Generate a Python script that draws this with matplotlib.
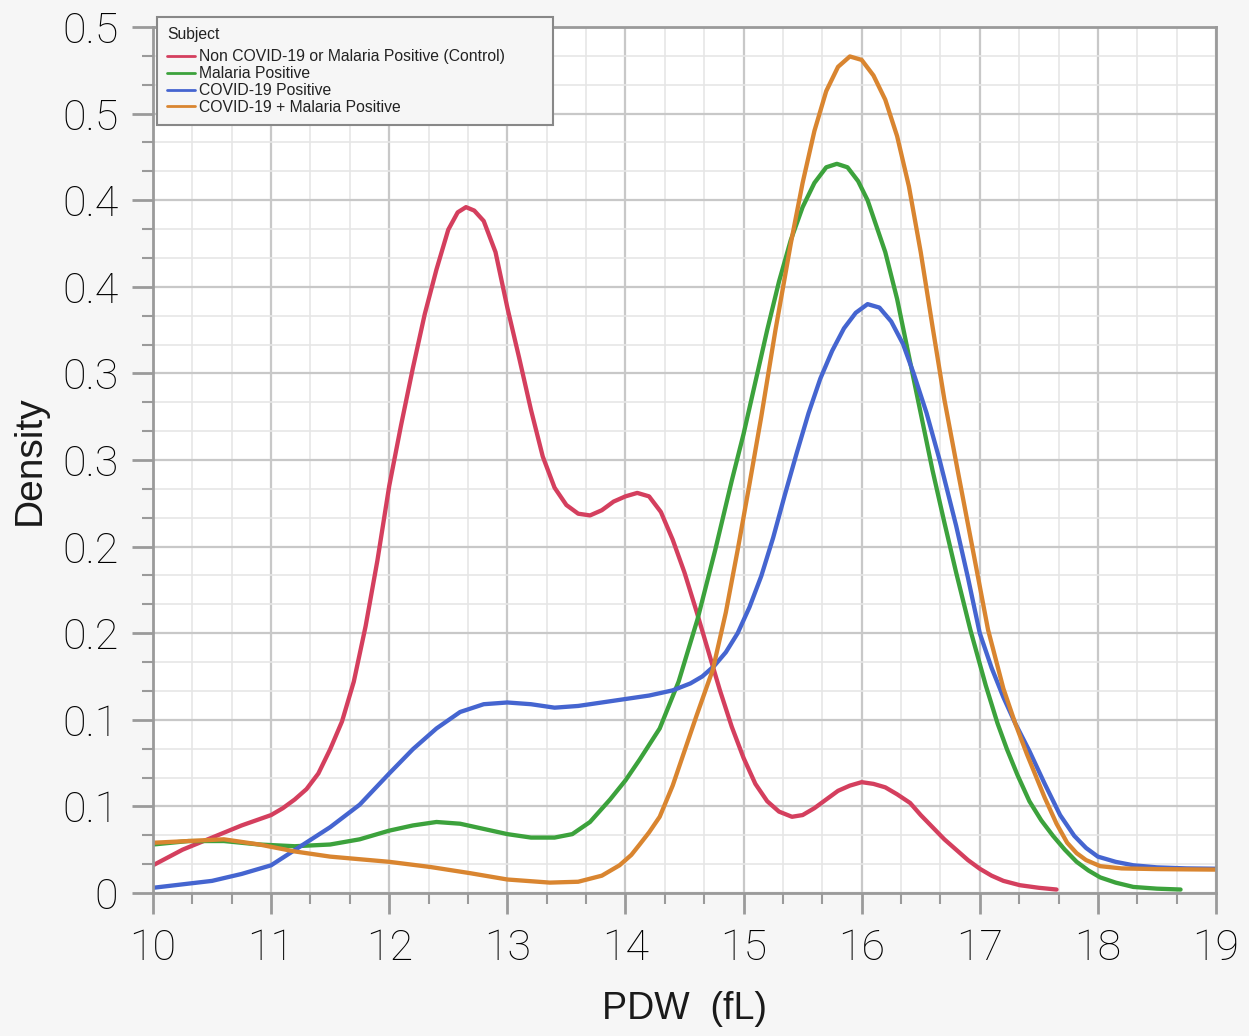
import matplotlib.pyplot as plt
from matplotlib.ticker import MultipleLocator

# density curves (PDW in fL vs density)
control_x = [10.0, 10.25, 10.5, 10.75, 11.0, 11.1, 11.2, 11.3, 11.4, 11.5, 11.6, 11.7,
             11.8, 11.9, 12.0, 12.1, 12.2, 12.3, 12.4, 12.5, 12.58, 12.65, 12.72, 12.8,
             12.9, 13.0, 13.1, 13.2, 13.3, 13.4, 13.5, 13.6, 13.7, 13.8, 13.9, 14.0,
             14.1, 14.2, 14.3, 14.4, 14.5, 14.6, 14.7, 14.8, 14.9, 15.0, 15.1, 15.2,
             15.3, 15.41, 15.5, 15.6, 15.7, 15.8, 15.9, 16.0, 16.1, 16.2, 16.3, 16.41,
             16.5, 16.6, 16.7, 16.8, 16.9, 17.0, 17.1, 17.2, 17.34, 17.5, 17.65]
control_y = [0.016, 0.025, 0.032, 0.039, 0.045, 0.049, 0.054, 0.060, 0.069, 0.083, 0.099, 0.122,
             0.154, 0.192, 0.235, 0.270, 0.303, 0.334, 0.360, 0.383, 0.393, 0.396, 0.394, 0.388,
             0.370, 0.338, 0.309, 0.279, 0.252, 0.234, 0.224, 0.219, 0.218, 0.221, 0.226, 0.229,
             0.231, 0.229, 0.220, 0.204, 0.185, 0.163, 0.140, 0.117, 0.096, 0.078, 0.063, 0.053,
             0.047, 0.044, 0.045, 0.049, 0.054, 0.059, 0.062, 0.064, 0.063, 0.061, 0.057, 0.052,
             0.045, 0.038, 0.031, 0.025, 0.019, 0.014, 0.010, 0.007, 0.0045, 0.003, 0.002]

malaria_x = [10.0, 10.3, 10.6, 10.9, 11.2, 11.5, 11.75, 12.0, 12.2, 12.4, 12.6, 12.8,
             13.0, 13.2, 13.4, 13.55, 13.7, 13.87, 14.0, 14.12, 14.29, 14.45, 14.61, 14.76,
             14.9, 15.0, 15.1, 15.2, 15.3, 15.4, 15.5, 15.6, 15.7, 15.79, 15.88, 15.97,
             16.05, 16.2, 16.3, 16.4, 16.5, 16.6, 16.7, 16.8, 16.92, 17.05, 17.15, 17.23,
             17.32, 17.42, 17.52, 17.62, 17.72, 17.82, 17.92, 18.02, 18.15, 18.3, 18.5, 18.7]
malaria_y = [0.028, 0.030, 0.030, 0.028, 0.027, 0.028, 0.031, 0.036, 0.039, 0.041, 0.040, 0.037,
             0.034, 0.032, 0.032, 0.034, 0.041, 0.054, 0.065, 0.077, 0.095, 0.122, 0.158, 0.198,
             0.238, 0.265, 0.295, 0.325, 0.353, 0.377, 0.396, 0.410, 0.419, 0.421, 0.419, 0.411,
             0.400, 0.370, 0.343, 0.310, 0.277, 0.244, 0.214, 0.185, 0.152, 0.120, 0.098, 0.083,
             0.068, 0.053, 0.042, 0.033, 0.025, 0.018, 0.013, 0.009, 0.006, 0.0035, 0.0025, 0.002]

covid_x = [10.0, 10.25, 10.5, 10.75, 11.0, 11.25, 11.5, 11.75, 12.0, 12.2, 12.4, 12.6,
           12.8, 13.0, 13.2, 13.4, 13.6, 13.8, 14.0, 14.2, 14.4, 14.55, 14.65, 14.75,
           14.85, 14.95, 15.05, 15.15, 15.25, 15.35, 15.45, 15.55, 15.65, 15.75, 15.85, 15.95,
           16.05, 16.15, 16.25, 16.35, 16.44, 16.55, 16.66, 16.8, 16.9, 17.0, 17.1, 17.2,
           17.3, 17.42, 17.55, 17.68, 17.8, 17.9, 18.0, 18.15, 18.3, 18.5, 18.75, 19.0]
covid_y = [0.003, 0.005, 0.007, 0.011, 0.016, 0.027, 0.038, 0.051, 0.069, 0.083, 0.095, 0.1045,
           0.109, 0.110, 0.109, 0.107, 0.108, 0.110, 0.112, 0.114, 0.117, 0.121, 0.125, 0.131,
           0.139, 0.150, 0.165, 0.183, 0.205, 0.230, 0.254, 0.277, 0.297, 0.313, 0.326, 0.335,
           0.340, 0.338, 0.330, 0.317, 0.300, 0.277, 0.250, 0.212, 0.182, 0.150, 0.130, 0.113,
           0.098, 0.082, 0.063, 0.045, 0.033, 0.026, 0.021, 0.018, 0.016, 0.0148, 0.0142, 0.014]

coinf_x = [10.0, 10.3, 10.6, 10.9, 11.2, 11.5, 11.75, 12.0, 12.35, 12.68, 13.0, 13.36,
           13.6, 13.8, 13.95, 14.05, 14.12, 14.2, 14.29, 14.4, 14.5, 14.6, 14.74, 14.85,
           14.95, 15.05, 15.15, 15.27, 15.4, 15.5, 15.6, 15.7, 15.8, 15.9, 16.0, 16.1,
           16.2, 16.3, 16.4, 16.5, 16.6, 16.7, 16.81, 16.95, 17.07, 17.2, 17.3, 17.4,
           17.55, 17.65, 17.74, 17.82, 17.9, 18.02, 18.2, 18.5, 19.0]
coinf_y = [0.029, 0.030, 0.031, 0.028, 0.024, 0.021, 0.0195, 0.018, 0.015, 0.0115, 0.0078, 0.006,
           0.0065, 0.010, 0.016, 0.022, 0.028, 0.035, 0.044, 0.062, 0.082, 0.102, 0.129, 0.162,
           0.198, 0.236, 0.275, 0.325, 0.375, 0.410, 0.440, 0.463, 0.477, 0.483, 0.481, 0.472,
           0.458, 0.437, 0.408, 0.370, 0.327, 0.285, 0.245, 0.195, 0.152, 0.118, 0.098, 0.080,
           0.055, 0.040, 0.029, 0.023, 0.019, 0.0155, 0.0142, 0.0138, 0.0135]

labels = ['Non COVID-19 or Malaria Positive (Control)', 'Malaria Positive',
          'COVID-19 Positive', 'COVID-19 + Malaria Positive']
colors = ['#d43f5e', '#3ca23c', '#4565d0', '#d98530']

y_ticks = [0, 0.05, 0.10, 0.15, 0.20, 0.25, 0.30, 0.35, 0.40, 0.45, 0.50]
y_tick_labels = ['0', '0.1', '0.1', '0.2', '0.2', '0.3', '0.3', '0.4', '0.4', '0.5', '0.5']
x_ticks = list(range(10, 20))

fig = plt.figure(figsize=(12.49, 10.36), dpi=100, facecolor='#f6f6f6')
ax = fig.add_axes([153 / 1249, 1 - 893 / 1036, (1216 - 153) / 1249, (893 - 27) / 1036])
ax.set_facecolor('white')

series = [(control_x, control_y), (malaria_x, malaria_y), (covid_x, covid_y), (coinf_x, coinf_y)]
for (xs, ys), lab, col in zip(series, labels, colors):
    ax.plot(xs, ys, color=col, lw=3.1, label=lab, solid_capstyle='round', solid_joinstyle='round')

ax.set_xlim(10, 19)
ax.set_ylim(0, 0.5)
ax.set_xticks(x_ticks)
ax.set_xticklabels([str(t) for t in x_ticks])
ax.set_yticks(y_ticks)
ax.set_yticklabels(y_tick_labels)
ax.xaxis.set_minor_locator(MultipleLocator(1 / 3))
ax.yaxis.set_minor_locator(MultipleLocator(0.05 / 3))

ax.grid(which='major', color='#c8c8c8', lw=1.6)
ax.grid(which='minor', color='#e6e6e6', lw=1.2)
ax.set_axisbelow(True)

for s in ax.spines.values():
    s.set_color('#9a9a9a')
    s.set_linewidth(2)

ax.tick_params(which='major', length=15, width=2, color='#9a9a9a', pad=10)
ax.tick_params(which='minor', length=8, width=1.5, color='#9a9a9a')
for t in ax.get_xticklabels() + ax.get_yticklabels():
    t.set_family('Roboto')
    t.set_weight('light')
    t.set_fontsize(31)
    t.set_color('#000000')

ax.set_xlabel('PDW  (fL)', family='Liberation Sans', fontsize=27, color='#1a1a1a', labelpad=16)
ax.set_ylabel('Density', family='Liberation Sans', fontsize=28, color='#1a1a1a', labelpad=10)

leg = ax.legend(title='Subject', loc='upper left', mode='expand',
                bbox_to_anchor=(157 / 1249, 1 - 124 / 1036, (553 - 157) / 1249, (124 - 17) / 1036),
                bbox_transform=fig.transFigure, borderaxespad=0, fancybox=False,
                prop={'family': 'Liberation Sans', 'size': 11.3}, title_fontsize=11.3,
                handlelength=1.75, handletextpad=0.25, labelspacing=0.12, borderpad=0.66,
                alignment='left', framealpha=1, facecolor='#f6f6f6', edgecolor='#888888')
leg._legend_box.sep = 5  # a bit more room under the "Subject" title
leg.get_title().set_family('Liberation Sans')
leg.get_title().set_color('#222222')
leg.get_frame().set_linewidth(1.5)
for line in leg.get_lines():
    line.set_linewidth(2)
for txt in leg.get_texts():
    txt.set_color('#222222')

fig.savefig('out.png', dpi=100, facecolor=fig.get_facecolor())
